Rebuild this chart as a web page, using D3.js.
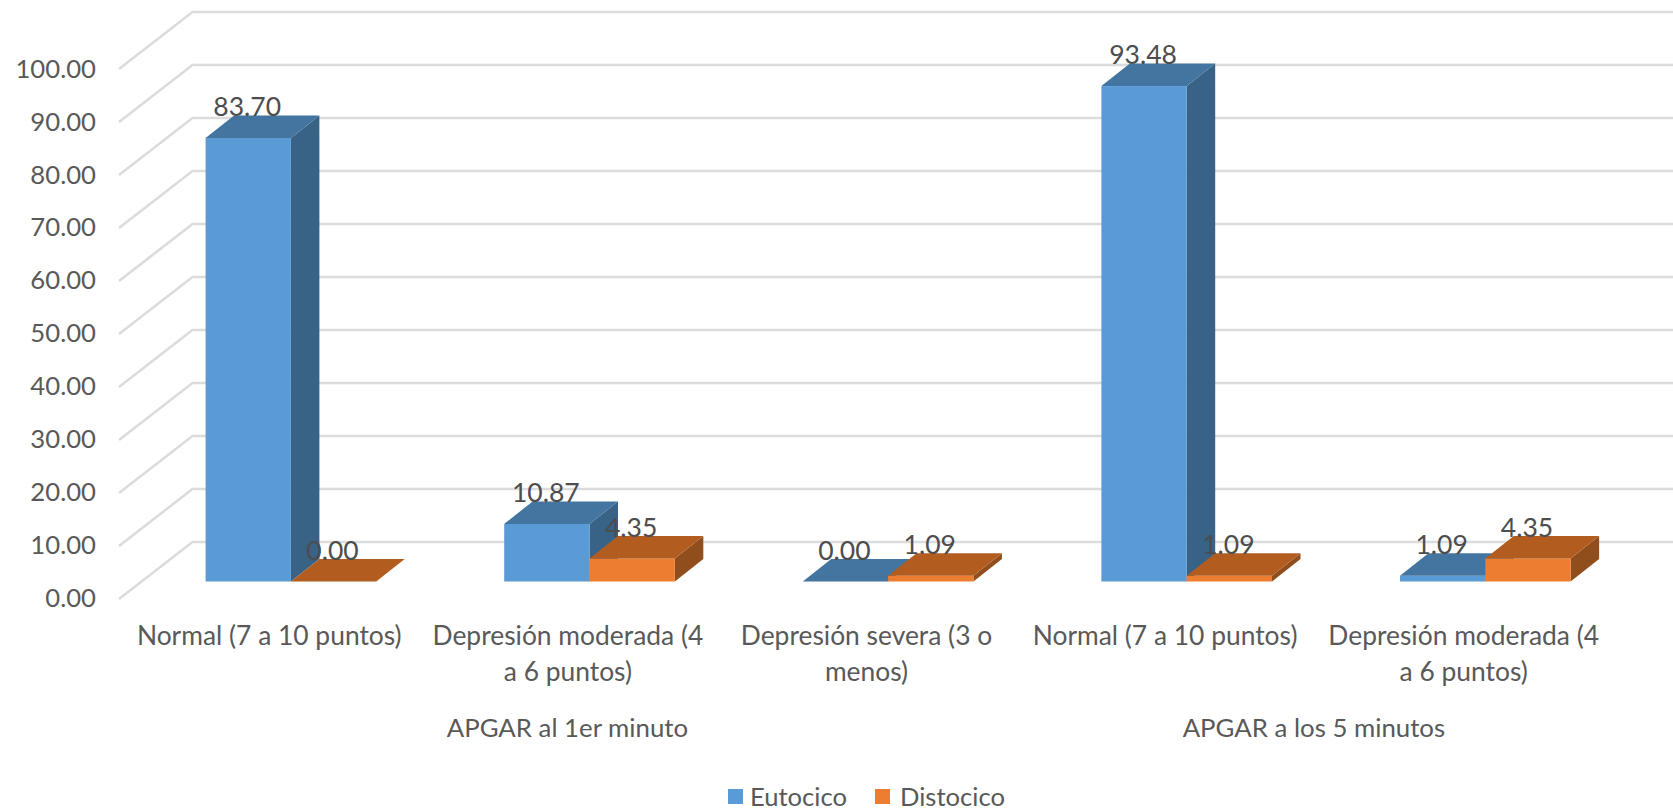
<!DOCTYPE html>
<html>
<head>
<meta charset="utf-8">
<script src="https://cdn.jsdelivr.net/npm/d3@7"></script>
<style>
html,body{margin:0;padding:0;background:#fff;overflow:hidden}
svg{display:block}
text{font-family:Lato,"Open Sans",sans-serif}
</style>
</head>
<body>
<svg id="chart" width="1673" height="811"></svg>
<script>
const categories = ["Normal (7 a 10 puntos)", "Depresión moderada (4|a 6 puntos)", "Depresión severa (3 o|menos)", "Normal (7 a 10 puntos) ", "Depresión moderada (4|a 6 puntos) "];
const seriesNames = ["Eutocico", "Distocico"];
const eutocico = [83.70, 10.87, 0.00, 93.48, 1.09];
const distocico = [0.00, 4.35, 1.09, 1.09, 4.35];
const groupNames = ["APGAR al 1er minuto", "APGAR a los 5 minutos"];
const groupSpans = [[0, 2], [3, 4]];
const yTicks = [0, 10, 20, 30, 40, 50, 60, 70, 80, 90, 100];
const faceColors = {
  Eutocico: {front: "#5b9bd5", top: "#4375a0", side: "#386286"},
  Distocico: {front: "#ed7d31", top: "#b25c20", side: "#914e1d"}
};

const svg = d3.select("#chart");
const W = 1673;
const wallFrontY = 599, wallFrontX = 119, wallDx = 73.5, wallDy = -57;
const barDx = 28.5, barDy = -22.5;
const baseY = 581.5, planeX = 141.6;
const plotW = 1493;

const h = d3.scaleLinear().domain([0, 100]).range([0, 530]);
const x0 = d3.scaleBand().domain(categories).range([planeX, planeX + plotW]);
const x1 = d3.scaleBand().domain(seriesNames).range([0, x0.bandwidth()]).paddingInner(0).paddingOuter(0.75);

// gridlines
const grid = svg.append("g").attr("fill", "none").attr("stroke", "#dcdcdc").attr("stroke-width", 2.6);
grid.selectAll("path").data(yTicks).join("path")
  .attr("d", d => {
    const y = wallFrontY - h(d);
    return `M${wallFrontX},${y}L${wallFrontX + wallDx},${y + wallDy}L${W},${y + wallDy}`;
  });

// y axis
const axisScale = d3.scaleLinear().domain([0, 100]).range([598, 69]);
const yAxis = svg.append("g").attr("transform", "translate(96,0)")
  .call(d3.axisLeft(axisScale).tickValues(yTicks).tickSize(0).tickPadding(0).tickFormat(d3.format(".2f")));
yAxis.select(".domain").remove();
yAxis.selectAll("text").attr("fill", "#595959").style("font-size", "25.7px").style("font-family", "Lato");

// bars
const barRows = categories.flatMap((c, i) => [
  {cat: c, s: "Eutocico", v: eutocico[i]},
  {cat: c, s: "Distocico", v: distocico[i]}
]);
const bars = svg.append("g");
const poly = pts => "M" + pts.map(p => p.join(",")).join("L") + "Z";
barRows.forEach(d => {
  const x = x0(d.cat) + x1(d.s), w = x1.bandwidth(), top = baseY - h(d.v);
  const col = faceColors[d.s];
  const g = bars.append("g");
  if (d.v > 0) {
    g.append("path").attr("fill", col.side).attr("d", poly([[x + w, baseY], [x + w + barDx, baseY + barDy], [x + w + barDx, top + barDy], [x + w, top]]));
    g.append("rect").attr("fill", col.front).attr("x", x).attr("y", top).attr("width", w).attr("height", h(d.v));
  }
  g.append("path").attr("fill", col.top).attr("d", poly([[x, top], [x + barDx, top + barDy], [x + w + barDx, top + barDy], [x + w, top]]));
});

// data labels
svg.append("g").selectAll("text").data(barRows).join("text")
  .attr("x", d => x0(d.cat) + x1(d.s) + x1.bandwidth() / 2 - 1)
  .attr("y", d => baseY - h(d.v) + barDy - 6)
  .attr("text-anchor", "middle").attr("dominant-baseline", "middle")
  .attr("fill", "#4d4d4d").style("font-size", "26.5px")
  .text(d => d.v.toFixed(2));

// category labels
const catG = svg.append("g");
categories.forEach(c => {
  const cx = x0(c) - (planeX - wallFrontX) + x0.bandwidth() / 2 + 1;
  const t = catG.append("text").attr("text-anchor", "middle").attr("fill", "#595959").style("font-size", "26.4px");
  c.trim().split("|").forEach((line, i) => {
    t.append("tspan").attr("x", cx).attr("y", 645 + i * 36).text(line);
  });
});

// group labels
svg.append("g").selectAll("text").data(groupNames).join("text")
  .attr("x", (d, i) => (x0(categories[groupSpans[i][0]]) + x0(categories[groupSpans[i][1]]) + x0.bandwidth()) / 2 - (planeX - wallFrontX) + 0.5)
  .attr("y", 737).attr("text-anchor", "middle").attr("fill", "#595959").style("font-size", "25.8px")
  .text(d => d);

// legend
const legendX = [728, 875], legendTextX = [750, 900];
const leg = svg.append("g").selectAll("g").data(seriesNames).join("g");
leg.append("rect").attr("x", (d, i) => legendX[i]).attr("y", 789).attr("width", 15).attr("height", 15).attr("fill", d => faceColors[d].front);
leg.append("text").attr("x", (d, i) => legendTextX[i]).attr("y", 806).attr("fill", "#595959").style("font-size", "25.6px").text(d => d);
</script>
</body>
</html>
